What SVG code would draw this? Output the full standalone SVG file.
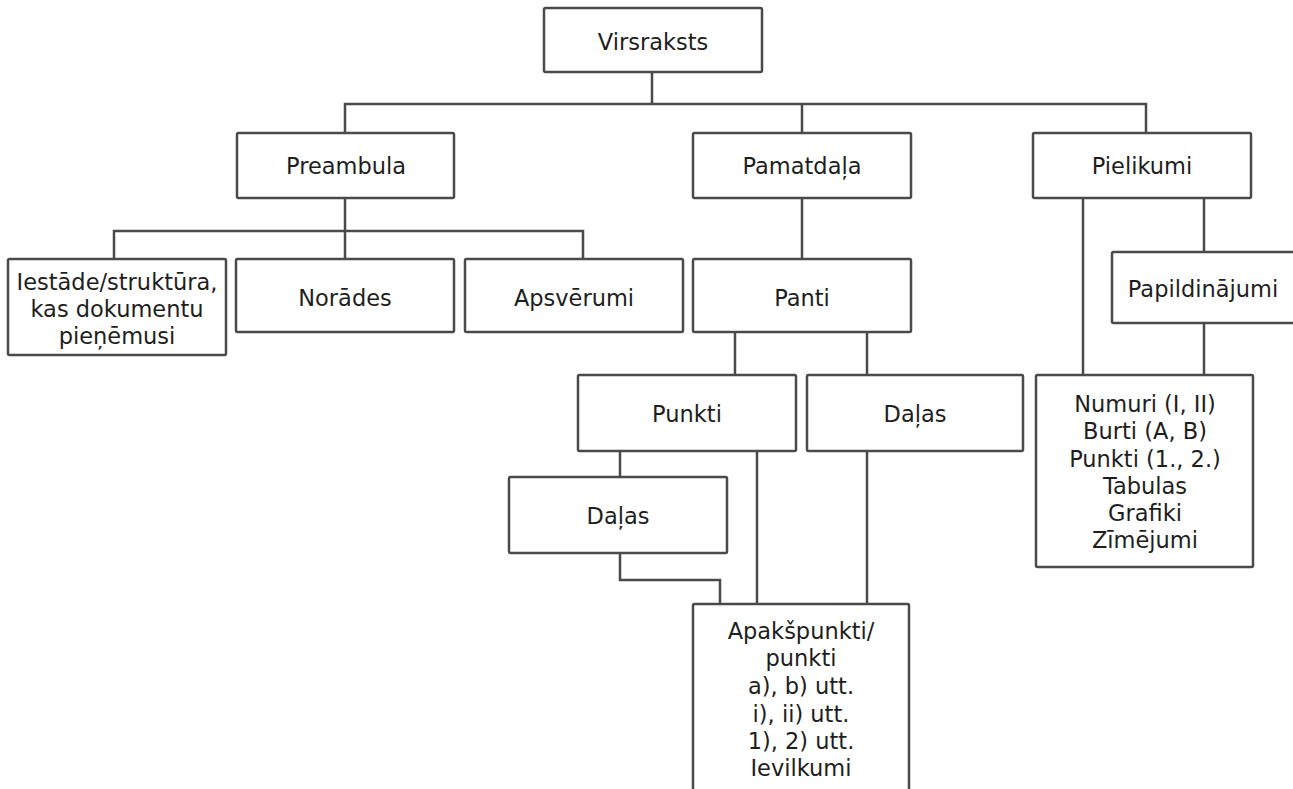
<svg xmlns="http://www.w3.org/2000/svg" width="1293" height="789" viewBox="0 0 1293 789">
<style>
  .box { fill: #ffffff; stroke: #4a4a4a; stroke-width: 2.5; }
  .conn { fill: none; stroke: #4a4a4a; stroke-width: 2.5; stroke-linejoin: miter; }
  text { font-family: "DejaVu Sans", Verdana, sans-serif; font-size: 22.5px; fill: #1e1e1e; text-anchor: middle; }
</style>
<rect x="0" y="0" width="1293" height="789" fill="#ffffff"/>
<g id="connectors">
  <path class="conn" d="M652 72 V104"/>
  <path class="conn" d="M345 133 V104 H1146 V133"/>
  <path class="conn" d="M802 104 V133"/>
  <path class="conn" d="M345 198 V259"/>
  <path class="conn" d="M114 259 V231 H583 V259"/>
  <path class="conn" d="M802 198 V259"/>
  <path class="conn" d="M1083 198 V375"/>
  <path class="conn" d="M1204 198 V252"/>
  <path class="conn" d="M1204 323 V375"/>
  <path class="conn" d="M735 332 V375"/>
  <path class="conn" d="M867 332 V375"/>
  <path class="conn" d="M620 451 V477"/>
  <path class="conn" d="M620 553 V580 H720 V604"/>
  <path class="conn" d="M757 451 V604"/>
  <path class="conn" d="M867 451 V604"/>
</g>
<g id="virsraksts">
  <rect class="box" x="544" y="8" width="218" height="64" rx="1.5"/>
  <text x="653" y="50">Virsraksts</text>
</g>
<g id="preambula">
  <rect class="box" x="237" y="133" width="217" height="65" rx="1.5"/>
  <text x="346" y="174">Preambula</text>
</g>
<g id="pamatdala">
  <rect class="box" x="693" y="133" width="218" height="65" rx="1.5"/>
  <text x="802" y="174">Pamatdaļa</text>
</g>
<g id="pielikumi">
  <rect class="box" x="1033" y="133" width="218" height="65" rx="1.5"/>
  <text x="1142" y="174">Pielikumi</text>
</g>
<g id="iestade">
  <rect class="box" x="8" y="259" width="218" height="96" rx="1.5"/>
  <text x="117" y="290">Iestāde/struktūra,</text>
  <text x="117" y="317">kas dokumentu</text>
  <text x="117" y="344">pieņēmusi</text>
</g>
<g id="norades">
  <rect class="box" x="236" y="259" width="218" height="73" rx="1.5"/>
  <text x="345" y="306">Norādes</text>
</g>
<g id="apsverumi">
  <rect class="box" x="465" y="259" width="218" height="73" rx="1.5"/>
  <text x="574" y="306">Apsvērumi</text>
</g>
<g id="panti">
  <rect class="box" x="693" y="259" width="218" height="73" rx="1.5"/>
  <text x="802" y="306">Panti</text>
</g>
<g id="papildinajumi">
  <rect class="box" x="1112" y="252" width="186" height="71" rx="1.5"/>
  <text x="1203" y="297">Papildinājumi</text>
</g>
<g id="punkti">
  <rect class="box" x="578" y="375" width="218" height="76" rx="1.5"/>
  <text x="687" y="422">Punkti</text>
</g>
<g id="dalas-right">
  <rect class="box" x="807" y="375" width="216" height="76" rx="1.5"/>
  <text x="915" y="422">Daļas</text>
</g>
<g id="numuri">
  <rect class="box" x="1036" y="375" width="217" height="192" rx="1.5"/>
  <text x="1145" y="412">Numuri (I, II)</text>
  <text x="1145" y="439">Burti (A, B)</text>
  <text x="1145" y="467">Punkti (1., 2.)</text>
  <text x="1145" y="494">Tabulas</text>
  <text x="1145" y="521">Grafiki</text>
  <text x="1145" y="548">Zīmējumi</text>
</g>
<g id="dalas-left">
  <rect class="box" x="509" y="477" width="218" height="76" rx="1.5"/>
  <text x="618" y="524">Daļas</text>
</g>
<g id="apakspunkti">
  <rect class="box" x="693" y="604" width="216" height="200" rx="1.5"/>
  <text x="801" y="639">Apakšpunkti/</text>
  <text x="801" y="666">punkti</text>
  <text x="801" y="694">a), b) utt.</text>
  <text x="801" y="722">i), ii) utt.</text>
  <text x="801" y="749">1), 2) utt.</text>
  <text x="801" y="776">Ievilkumi</text>
</g>
</svg>
